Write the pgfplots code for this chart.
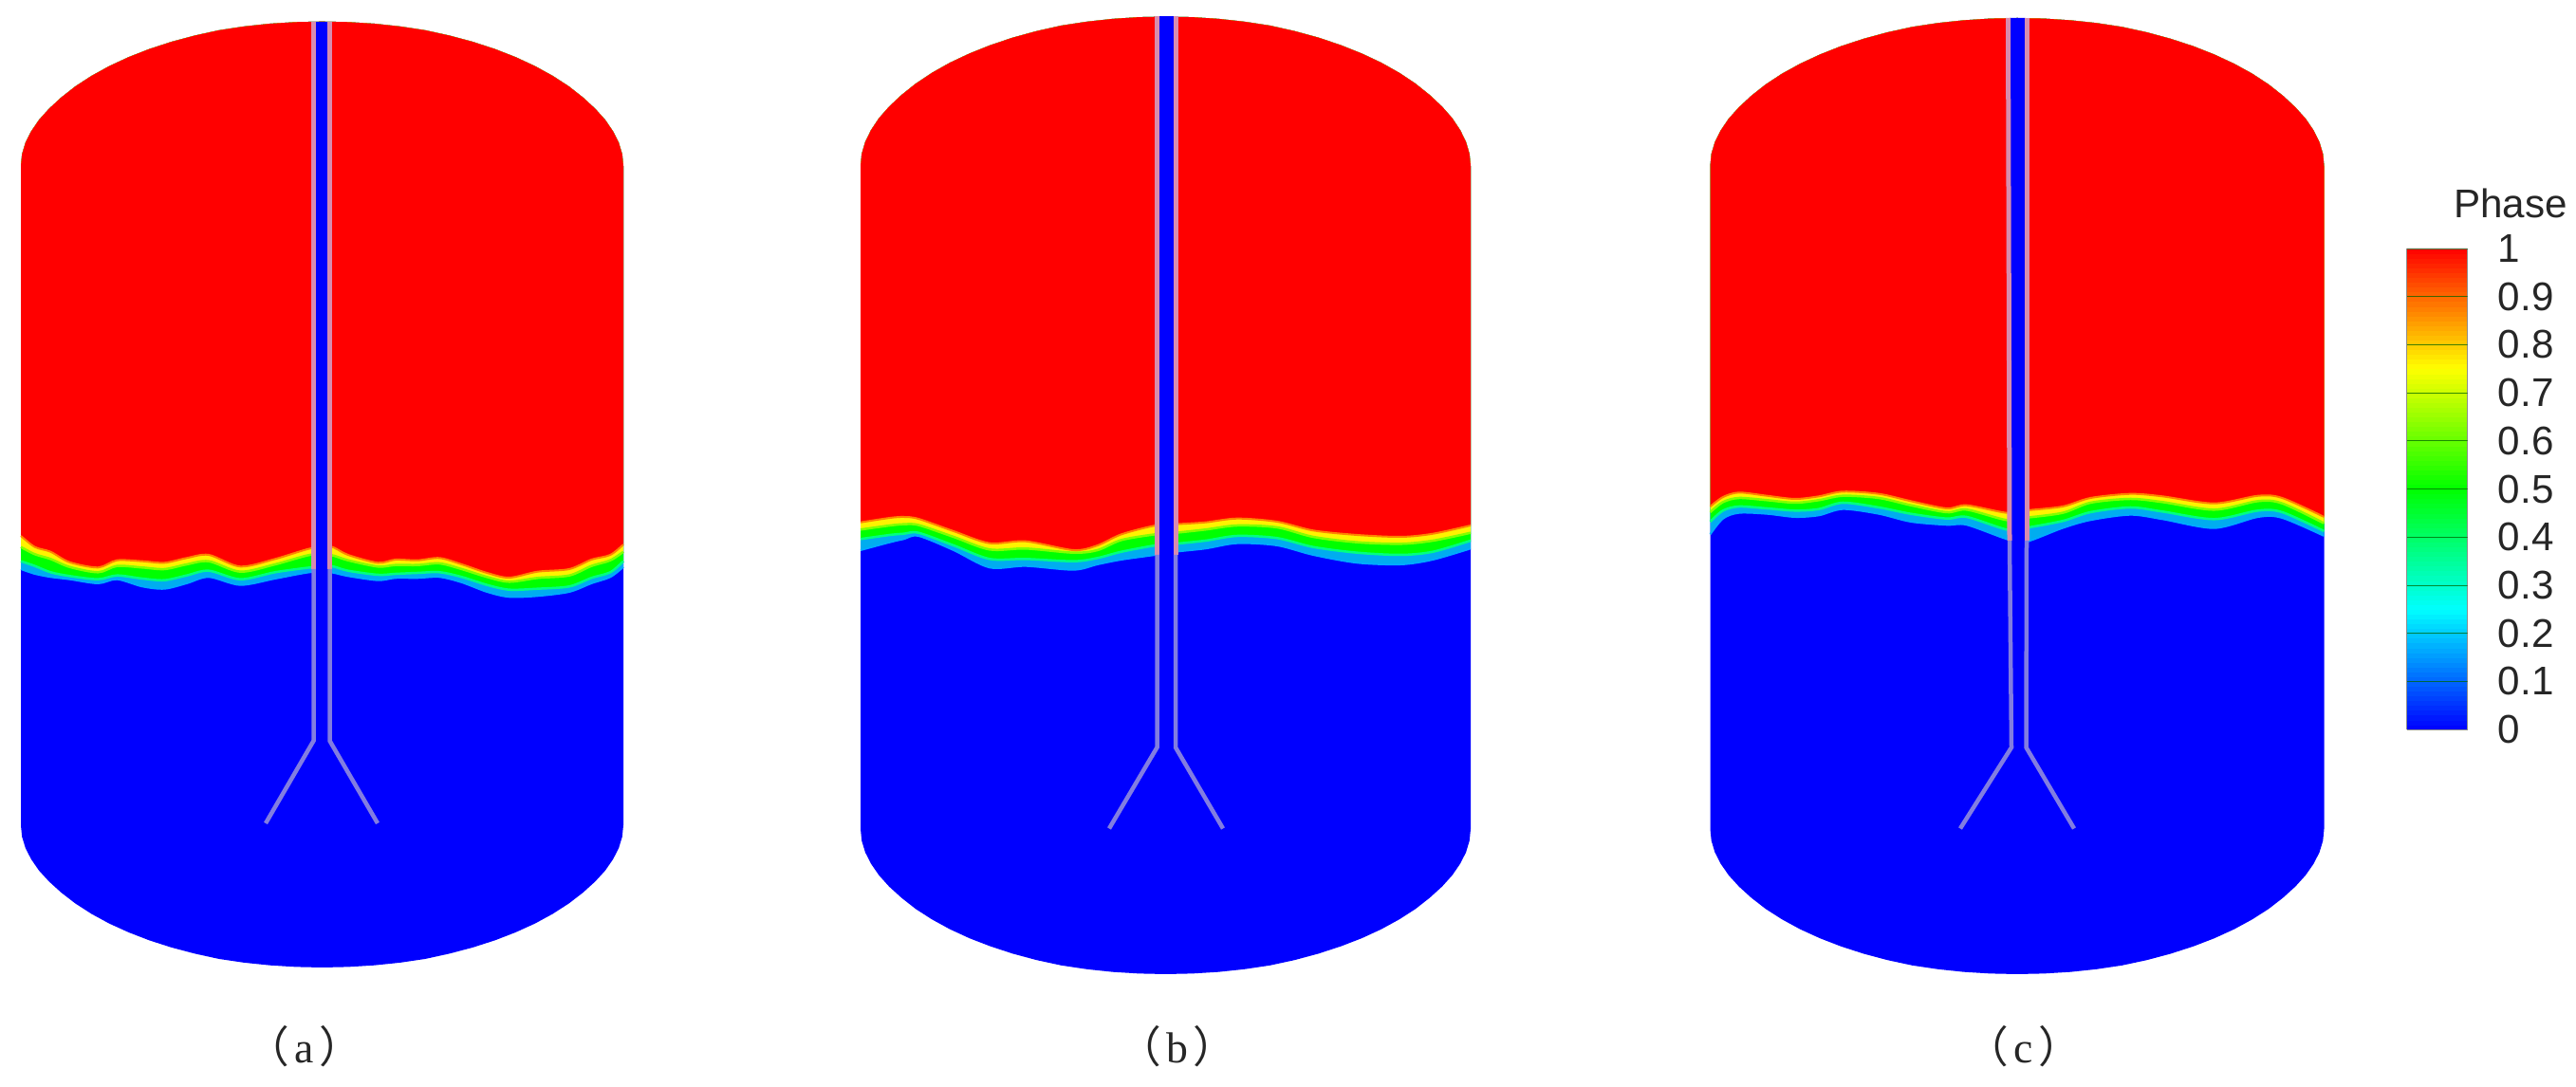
\documentclass[border=0pt]{standalone}
\usepackage{fontspec}
\setmainfont{Liberation Sans}
\newfontfamily\cjk{Noto Sans CJK SC}
\newfontfamily\serif{Liberation Serif}
\usepackage{pgfplots}
\usepgfplotslibrary{fillbetween}
\pgfplotsset{compat=1.18}
\usepackage{pgfplotstable}
\definecolor{cOr}{RGB}{255,130,0}
\definecolor{cLi}{RGB}{130,255,0}
\definecolor{cTe}{RGB}{0,255,130}
\definecolor{cSk}{RGB}{0,170,255}
\definecolor{lineUp}{RGB}{215,140,175}
\definecolor{lineDn}{RGB}{130,125,225}
% interface curves: x, red/yellow, yellow/green, green/cyan, cyan/blue (image pixels)
\pgfplotstableread{
x r y g b
22 565 576.7 591.7 600
36.7 576.7 584.3 596.7 605
53.3 581.7 589.3 603.3 608.3
73.3 592.7 597.7 607.3 610.7
103.3 598.3 603.3 610.7 615
123.3 590.7 596.7 606.7 610.7
150 591.7 598.3 610 618.3
173.3 593.3 600 611.7 620.7
196.7 588.3 595 606.7 615
220 585 591.7 601.7 608.3
253.3 597.3 602.7 610.7 616.7
290 589.3 595 603.3 610
326.7 578.3 585 598.3 603.3
348 576 585 596.7 603.3
366.7 585 590.7 601.7 607.3
398.3 593.3 597.3 606 611.7
416.7 590 595.7 605 609.3
440 590.7 595.7 604 609.3
463.3 588.3 594 603.3 608.3
486.7 595 600 608.3 614
513.3 604 608.3 616.7 624
536.7 609 613.3 621.7 629.3
566.7 602.7 609.3 620.7 628.3
600 600 606.7 618.3 624
623.3 590 596.7 609.3 615
643.3 585 590.7 603.3 608.3
657 574 581.7 591.7 597.7
}\tableA
\pgfplotstableread{
x r y g b
907 550.7 558.3 568.3 580
937.9 546 554 564 571.7
952.6 545 552.7 562.7 568.3
968 547 553.5 561.7 565
1005 560 566 575 580
1043 572.7 579.3 589.3 598.3
1081 570.7 578.3 589.3 596.7
1131.5 580 582.7 591.7 600.7
1156.7 575 580 588.3 595
1182 563.3 569.3 581.7 590
1217.8 554 563.3 575 585
1238.8 552.7 561.7 573.3 581.7
1270.4 550.7 558.3 570 578.3
1304 546.7 554 565 572.7
1346 550 556 567.3 575
1384 559.3 566 576.7 585
1430.3 564 571.7 582.7 593.3
1476.6 566 573.3 585 595
1510.3 562.7 570 581.7 590
1550 554 561.7 570 578.3
}\tableB
\pgfplotstableread{
x r y g b
1802.5 534 540 550 563.3
1816 524 529.3 538.3 546.7
1832.9 519.3 525 534 540.7
1862.3 522.7 527.3 536 541.7
1891.8 526 530 538.3 545
1917 523.3 527.3 536.7 543.3
1942.3 518.3 522.7 530 536.7
1980.2 520.7 525 535 541.7
2013.9 528.3 532.7 541.7 550
2051.7 536 540 546.7 553.3
2072.8 532.7 537.3 545 553.3
2114.9 540.7 548.3 558.3 568.3
2133.8 538.3 546 556.7 571.7
2173.8 534 540.7 549.3 556.7
2203.3 525 530 540 548.3
2245.3 520.7 526 535 542.7
2279 523.3 529.3 539.3 547.3
2333.7 530.7 537.3 547.3 556.7
2380 522.7 528.3 538.3 545
2405.3 525 530.7 540 546
2449.5 545 551.7 560 565
}\tableC
\newcommand\bands[2]{%
  \addplot[draw=none,smooth,name path=#1R] table[x=x,y=r]{#2};
  \addplot[draw=none,smooth,name path=#1Y] table[x=x,y=y]{#2};
  \addplot[draw=none,smooth,name path=#1G] table[x=x,y=g]{#2};
  \addplot[draw=none,smooth,name path=#1B] table[x=x,y=b]{#2};
  \addplot[blue,draw=none] fill between[of=#1T and #1D,reverse=true];
  \addplot[cyan,draw=none] fill between[of=#1T and #1B,reverse=true];
  \addplot[green,draw=none] fill between[of=#1T and #1G,reverse=true];
  \addplot[yellow,draw=none] fill between[of=#1T and #1Y,reverse=true];
  \addplot[red,draw=none] fill between[of=#1T and #1R,reverse=true];
  \addplot[draw=cSk,smooth,line width=0.02cm] table[x=x,y=b]{#2};
  \addplot[draw=cTe,smooth,line width=0.025cm] table[x=x,y=g]{#2};
  \addplot[draw=cLi,smooth,line width=0.025cm] table[x=x,y=y]{#2};
  \addplot[draw=cOr,smooth,line width=0.02cm] table[x=x,y=r]{#2};
}
\begin{document}
\begin{tikzpicture}
\begin{axis}[
  scale only axis, width=27.15cm, height=11.46cm,
  xmin=0, xmax=2715, ymin=0, ymax=1146, y dir=reverse,
  hide axis, clip=false,
  colormap={tecrainbow}{rgb255(0)=(0,0,255) rgb255(1)=(0,255,255) rgb255(2)=(0,255,0) rgb255(3)=(255,255,0) rgb255(4)=(255,0,0)},
  point meta min=0, point meta max=1,
  colorbar sampled,
  colorbar style={
    samples=101,
    at={(0.93426,0.77138)}, anchor=north west,
    width=0.64cm, height=5.07cm,
    ytick={0,0.1,0.2,0.3,0.4,0.5,0.6,0.7,0.8,0.9,1},
    yticklabels={0,0.1,0.2,0.3,0.4,0.5,0.6,0.7,0.8,0.9,1},
    yticklabel pos=right,
    tick align=inside,
    major tick length=0.64cm,
    every tick/.style={black!60!green,line width=0.2pt,opacity=0.5},
    axis line style={draw=black!45,line width=0.2pt},
    yticklabel style={font=\fontsize{12}{12}\selectfont,anchor=west,xshift=0.2cm,text=black!85},
    /pgf/number format/assume math mode=true,
  },
]
\addplot[draw=none] coordinates {(0,0)(2715,1146)};

% tank (a)
\addplot[draw=none,name path=aT] coordinates {(22,500)(22,175)(23.2,162.7)(26.8,150.6)(32.8,138.6)(41.1,126.4)(51.7,114.6)(64.5,102.8)(79.4,91.1)(96.3,80.1)(115,69.8)(135.4,60.3)(157.4,51.7)(180.7,44.1)(205.3,37.5)(230.9,31.9)(257.3,27.9)(284.4,25)(311.8,23.3)(339.5,22.7)(367.2,23.3)(394.6,25)(421.7,27.9)(448.1,31.9)(473.7,37.5)(498.3,44.1)(521.6,51.7)(543.6,60.3)(564,69.8)(582.7,80.1)(599.6,91.1)(614.5,102.8)(627.3,114.6)(637.9,126.4)(646.2,138.6)(652.2,150.6)(655.8,162.7)(657,175)(657,500)};
\addplot[draw=none,name path=aD] coordinates {(22,700)(22,870)(23.2,882.1)(26.8,894)(32.8,905.8)(41.1,917.8)(51.7,929.4)(64.5,941)(79.4,952.5)(96.3,963.4)(115,973.6)(135.4,982.9)(157.4,991.4)(180.7,998.9)(205.3,1005.4)(230.9,1011)(257.3,1014.9)(284.4,1017.7)(311.8,1019.4)(339.5,1020)(367.2,1019.4)(394.6,1017.7)(421.7,1014.9)(448.1,1011)(473.7,1005.4)(498.3,998.9)(521.6,991.4)(543.6,982.9)(564,973.6)(582.7,963.4)(599.6,952.5)(614.5,941)(627.3,929.4)(637.9,917.8)(646.2,905.8)(652.2,894)(655.8,882.1)(657,870)(657,700)};
\bands{a}{\tableA}
\addplot[fill=blue,draw=none] coordinates {(332,22.7)(346,22.7)(346,781)(332,781)} -- cycle;
\addplot[lineUp,line width=0.05cm] coordinates {(330.5,22.7)(330.5,600)};
\addplot[lineUp,line width=0.05cm] coordinates {(347.5,22.7)(347.5,600)};
\addplot[lineDn,line width=0.045cm] coordinates {(330.5,600)(330.5,781)(280,868)};
\addplot[lineDn,line width=0.045cm] coordinates {(347.5,600)(347.5,781)(398,868)};

% tank (b)
\addplot[draw=none,name path=bT] coordinates {(907,500)(907,175)(908.2,162.3)(911.9,149.7)(918,137.2)(926.4,124.6)(937.1,112.4)(950.1,100.2)(965.1,88.2)(982.2,76.8)(1001.2,66.1)(1021.8,56.4)(1044.1,47.5)(1067.7,39.6)(1092.6,32.8)(1118.5,27)(1145.3,22.9)(1172.7,19.9)(1200.5,18.1)(1228.5,17.5)(1256.5,18.1)(1284.3,19.9)(1311.7,22.9)(1338.5,27)(1364.4,32.8)(1389.3,39.6)(1412.9,47.5)(1435.2,56.4)(1455.8,66.1)(1474.8,76.8)(1491.9,88.2)(1506.9,100.2)(1519.9,112.4)(1530.6,124.6)(1539,137.2)(1545.1,149.7)(1548.8,162.3)(1550,175)(1550,500)};
\addplot[draw=none,name path=bD] coordinates {(907,700)(907,874)(908.2,886.3)(911.9,898.6)(918,910.6)(926.4,922.8)(937.1,934.7)(950.1,946.5)(965.1,958.3)(982.2,969.3)(1001.2,979.7)(1021.8,989.2)(1044.1,997.8)(1067.7,1005.5)(1092.6,1012.2)(1118.5,1017.8)(1145.3,1021.8)(1172.7,1024.7)(1200.5,1026.4)(1228.5,1027)(1256.5,1026.4)(1284.3,1024.7)(1311.7,1021.8)(1338.5,1017.8)(1364.4,1012.2)(1389.3,1005.5)(1412.9,997.8)(1435.2,989.2)(1455.8,979.7)(1474.8,969.3)(1491.9,958.3)(1506.9,946.5)(1519.9,934.7)(1530.6,922.8)(1539,910.6)(1545.1,898.6)(1548.8,886.3)(1550,874)(1550,700)};
\bands{b}{\tableB}
\addplot[fill=blue,draw=none] coordinates {(1221,17.5)(1237,17.5)(1237,788)(1221,788)} -- cycle;
\addplot[lineUp,line width=0.05cm] coordinates {(1219.5,17.5)(1219.5,585)};
\addplot[lineUp,line width=0.05cm] coordinates {(1239,17.5)(1239,585)};
\addplot[lineDn,line width=0.045cm] coordinates {(1219.5,585)(1219.5,788)(1169,873.5)};
\addplot[lineDn,line width=0.045cm] coordinates {(1239,585)(1239,788)(1289,873.5)};

% tank (c)
\addplot[draw=none,name path=cT] coordinates {(1802.5,500)(1802.5,175)(1803.7,162.4)(1807.4,149.9)(1813.5,137.6)(1822,125.1)(1832.8,113.1)(1845.8,101)(1861,89)(1878.2,77.7)(1897.3,67.2)(1918.1,57.5)(1940.4,48.7)(1964.2,40.9)(1989.3,34.1)(2015.4,28.4)(2042.3,24.3)(2069.8,21.4)(2097.8,19.6)(2126,19)(2154.2,19.6)(2182.2,21.4)(2209.7,24.3)(2236.6,28.4)(2262.7,34.1)(2287.8,40.9)(2311.6,48.7)(2333.9,57.5)(2354.7,67.2)(2373.8,77.7)(2391,89)(2406.2,101)(2419.2,113.1)(2430,125.1)(2438.5,137.6)(2444.6,149.9)(2448.3,162.4)(2449.5,175)(2449.5,500)};
\addplot[draw=none,name path=cD] coordinates {(1802.5,700)(1802.5,874)(1803.7,886.3)(1807.4,898.6)(1813.5,910.6)(1822,922.8)(1832.8,934.7)(1845.8,946.5)(1861,958.3)(1878.2,969.3)(1897.3,979.7)(1918.1,989.2)(1940.4,997.8)(1964.2,1005.5)(1989.3,1012.2)(2015.4,1017.8)(2042.3,1021.8)(2069.8,1024.7)(2097.8,1026.4)(2126,1027)(2154.2,1026.4)(2182.2,1024.7)(2209.7,1021.8)(2236.6,1017.8)(2262.7,1012.2)(2287.8,1005.5)(2311.6,997.8)(2333.9,989.2)(2354.7,979.7)(2373.8,969.3)(2391,958.3)(2406.2,946.5)(2419.2,934.7)(2430,922.8)(2438.5,910.6)(2444.6,898.6)(2448.3,886.3)(2449.5,874)(2449.5,700)};
\bands{c}{\tableC}
\addplot[fill=blue,draw=none] coordinates {(2118,19)(2134.5,19)(2134,788)(2121,788)} -- cycle;
\addplot[lineUp,line width=0.05cm] coordinates {(2116.5,19)(2118,570)};
\addplot[lineUp,line width=0.05cm] coordinates {(2136,19)(2136,570)};
\addplot[lineDn,line width=0.045cm] coordinates {(2118,570)(2120,788)(2066,873.5)};
\addplot[lineDn,line width=0.045cm] coordinates {(2136,570)(2135.5,788)(2186,873.5)};

\node[inner sep=0pt,font=\fontsize{12}{12}\selectfont,text=black!85] at (axis cs:2646,214) {Phase};
\node[inner sep=0pt,font=\fontsize{13}{14}\selectfont,text=black!85] at (axis cs:321,1103) {{\cjk （}\hspace{0.12em}{\serif a}\hspace{0.12em}{\cjk ）}};
\node[inner sep=0pt,font=\fontsize{13}{14}\selectfont,text=black!85] at (axis cs:1241,1103) {{\cjk （}\hspace{0.12em}{\serif b}\hspace{0.12em}{\cjk ）}};
\node[inner sep=0pt,font=\fontsize{13}{14}\selectfont,text=black!85] at (axis cs:2133,1103) {{\cjk （}\hspace{0.12em}{\serif c}\hspace{0.12em}{\cjk ）}};
\end{axis}
\end{tikzpicture}
\end{document}
